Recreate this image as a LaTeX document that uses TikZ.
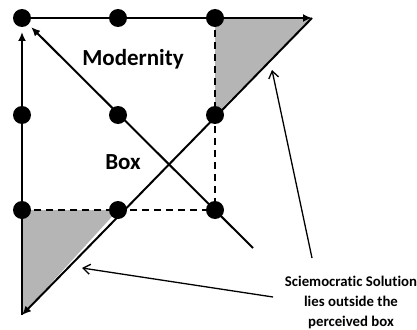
\documentclass[tikz,border=0pt]{standalone}
\usepackage{fontspec}
\setmainfont[Ligatures=NoCommon]{Carlito}
\usetikzlibrary{arrows.meta,positioning}
\tikzset{
  gdot/.style={circle, fill=black, inner sep=0pt, minimum size=18pt},
  gline/.style={line width=2pt},
  garrow/.style={line width=2pt, -{Latex[length=9pt,width=8pt]}},
  gdash/.style={line width=2pt, dash pattern=on 7pt off 5pt},
  gshade/.style={fill=gray!58},
  glabel/.style={font=\bfseries\fontsize{23}{25}\selectfont},
  gnote/.style={font=\bfseries\fontsize{14.8}{20}\selectfont, align=center},
  gpointer/.style={line width=1.3pt, -{Straight Barb[length=7pt,width=10pt]}}
}

\begin{document}
\begin{tikzpicture}[x=1pt,y=-1pt]
\useasboundingbox (0,0) rectangle (417,329);

% the nine dots
\coordinate (p11) at (22,18);
\coordinate (p12) at (118,18);
\coordinate (p13) at (215,18);
\coordinate (p21) at (22,115);
\coordinate (p22) at (118,115);
\coordinate (p23) at (215,115);
\coordinate (p31) at (22,210);
\coordinate (p32) at (118,210);
\coordinate (p33) at (215,210);

% ends of the four strokes
\coordinate (tipright) at (312,18);
\coordinate (tipdown) at (22,315);
\coordinate (diagend) at (253,248);

% pointer ends
\coordinate (ptrA) at (312,258);
\coordinate (ptrAend) at (272,70);
\coordinate (ptrB) at (273,297);
\coordinate (ptrBend) at (82,268);

% shaded corners outside the box
\fill[gshade] (p13) -- (tipright) -- (p23) -- cycle;
\fill[gshade] (p31) -- (p32) -- (tipdown) -- cycle;

% perceived box
\draw[gdash] (p31) -- (p33);
\draw[gdash] (p13) -- (p33);

% the four strokes
\draw[garrow] (p11) -- (tipright);
\draw[garrow] (tipright) -- (tipdown);
\draw[garrow, shorten >=14pt] (tipdown) -- (p11);
\draw[garrow, shorten >=13pt] (diagend) -- (p11);

\node[gdot] (d11) at (p11) {};
\node[gdot] (d12) at (p12) {};
\node[gdot] (d13) at (p13) {};
\node[gdot] (d21) at (p21) {};
\node[gdot] (d22) at (p22) {};
\node[gdot] (d23) at (p23) {};
\node[gdot] (d31) at (p31) {};
\node[gdot] (d32) at (p32) {};
\node[gdot] (d33) at (p33) {};

\node[glabel] (modern) at (133,59) {Modernity};
\node[glabel] (box) at (123,162) {Box};
\node[gnote] (note) at (351,302) {Sciemocratic Solution\\lies outside the\\perceived box};

\draw[gpointer] (ptrA) -- (ptrAend);
\draw[gpointer] (ptrB) -- (ptrBend);
\end{tikzpicture}
\end{document}
